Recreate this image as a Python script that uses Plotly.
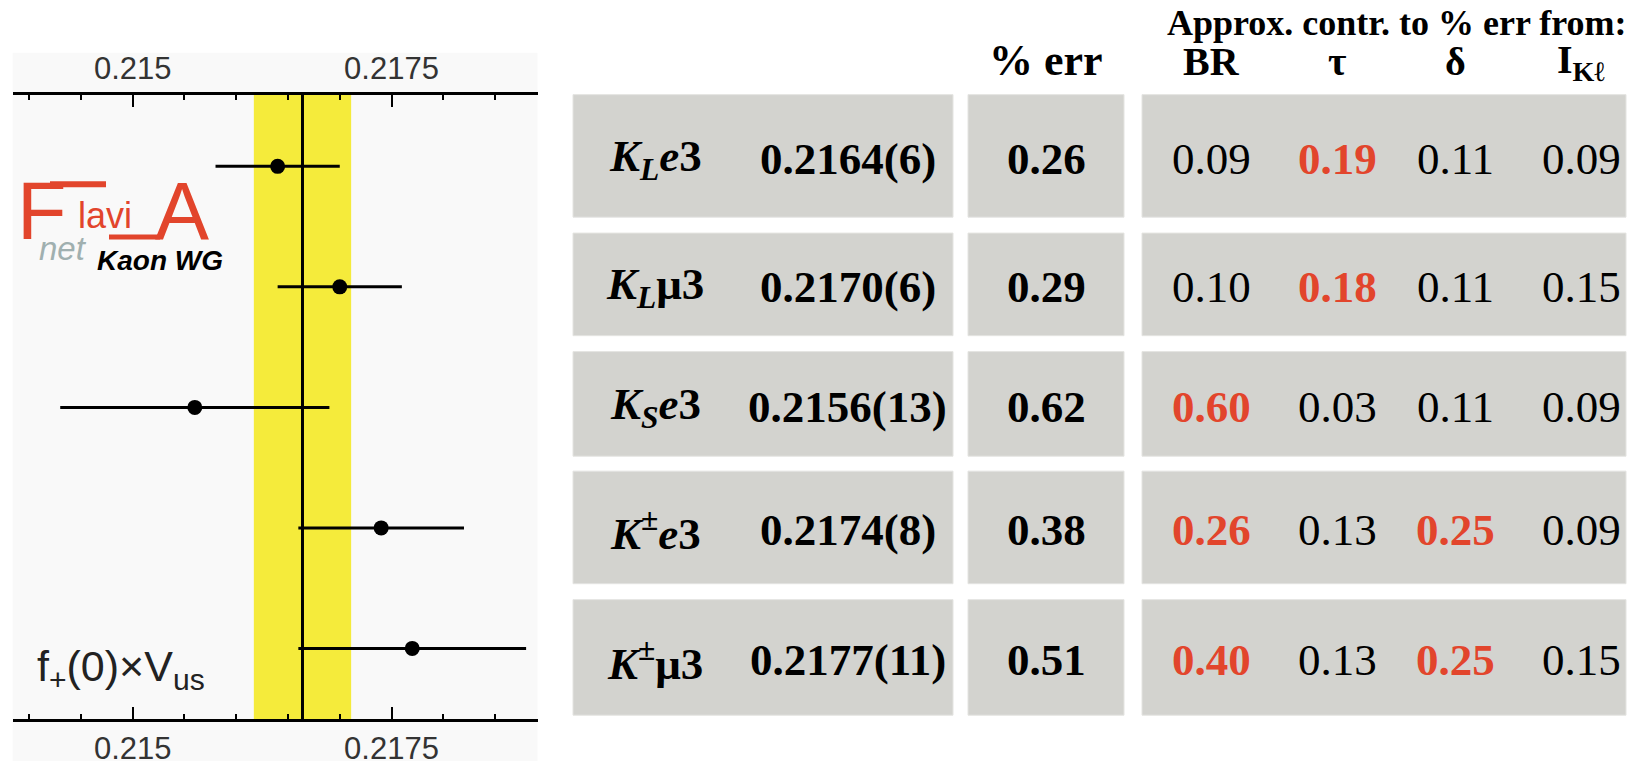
import plotly.graph_objects as go

# ---------------- data ----------------
decay_labels = [
    "<i>K</i><sub><i>L</i></sub><i>e</i>3",
    "<i>K</i><sub><i>L</i></sub>μ3",
    "<i>K</i><sub><i>S</i></sub><i>e</i>3",
    "<i>K</i><sup>±</sup><i>e</i>3",
    "<i>K</i><sup>±</sup>μ3",
]
fvus = [0.2164, 0.2170, 0.2156, 0.2174, 0.2177]
fvus_unc = [0.0006, 0.0006, 0.0013, 0.0008, 0.0011]
pct_err = [0.26, 0.29, 0.62, 0.38, 0.51]

contrib_headers = ["BR", "τ", "δ", "I<sub>Kℓ</sub>"]
contrib_br = [0.09, 0.10, 0.60, 0.26, 0.40]
contrib_tau = [0.19, 0.18, 0.03, 0.13, 0.13]
contrib_delta = [0.11, 0.11, 0.11, 0.25, 0.25]
contrib_ikl = [0.09, 0.15, 0.09, 0.09, 0.15]
# dominant contributions (printed in red)
dominant_br = [False, False, True, True, True]
dominant_tau = [True, True, False, False, False]
dominant_delta = [False, False, False, True, True]
dominant_ikl = [False, False, False, False, False]

avg_fvus = 0.21664
avg_unc = 0.00047

tick_vals = [0.215, 0.2175]
tick_text = ["0.215", "0.2175"]

# ---------------- layout helpers ----------------
W, H = 1646, 766
RED = "#e2452c"
BOX = "#d3d3cf"
SERIF = "Liberation Serif, Times New Roman, serif"
SANS = "Liberation Sans, Arial, sans-serif"


def px(x):
    return x / W


def py(y):
    return 1 - y / H


plot_left, plot_right = 12.6, 537.5
axis_top, axis_bottom = 95, 722
rows_y = list(range(len(fvus)))

fig = go.Figure()

fig.add_trace(go.Scatter(
    x=fvus, y=rows_y, mode="markers",
    marker=dict(size=15, color="black"),
    error_x=dict(type="data", array=fvus_unc, thickness=3, width=0, color="black"),
    hoverinfo="x", showlegend=False,
))
# helper trace so the top axis is drawn
fig.add_trace(go.Scatter(
    x=[avg_fvus], y=[0], xaxis="x2", yaxis="y", mode="markers",
    marker=dict(size=1, opacity=0), hoverinfo="skip", showlegend=False,
))

axis_common = dict(
    range=[0.21384, 0.21891],
    showline=True, linewidth=3, linecolor="black",
    ticks="inside", ticklen=12, tickwidth=2, tickcolor="black",
    tickmode="array", tickvals=tick_vals, ticktext=tick_text,
    tickfont=dict(family=SANS, size=31, color="#333333"),
    showgrid=False, zeroline=False,
    minor=dict(tickmode="linear", tick0=0.214, dtick=0.0005, ticks="inside",
               ticklen=5, tickwidth=2, tickcolor="black", showgrid=False),
)

fig.update_layout(
    width=W, height=H,
    margin=dict(l=0, r=0, t=0, b=0),
    paper_bgcolor="white",
    plot_bgcolor="rgba(0,0,0,0)",
    xaxis=dict(domain=[px(plot_left), px(plot_right)], anchor="y", side="bottom",
               **axis_common),
    xaxis2=dict(domain=[px(plot_left), px(plot_right)], anchor="y", side="top",
                overlaying="x", matches="x", **axis_common),
    yaxis=dict(domain=[py(axis_bottom), py(axis_top)], range=[4.587, -0.595],
               visible=False),
)

shapes = []
# light panel behind the plot
shapes.append(dict(type="rect", xref="paper", yref="paper",
                   x0=px(plot_left), x1=px(plot_right), y0=py(764), y1=py(53),
                   fillcolor="#f9f9f9", line=dict(width=0), layer="below"))
# average band and line
shapes.append(dict(type="rect", xref="x", yref="paper",
                   x0=avg_fvus - avg_unc, x1=avg_fvus + avg_unc,
                   y0=py(axis_bottom), y1=py(axis_top),
                   fillcolor="#f5eb3b", line=dict(width=0), layer="below"))
shapes.append(dict(type="line", xref="x", yref="paper",
                   x0=avg_fvus, x1=avg_fvus, y0=py(axis_bottom), y1=py(axis_top),
                   line=dict(color="black", width=3), layer="below"))

# table boxes
col_spans = [(573, 953), (968, 1124), (1142, 1626)]
row_spans = [(95, 218), (234, 337), (353, 458), (473, 586), (602, 718)]
for (y0, y1) in row_spans:
    for (x0, x1) in col_spans:
        shapes.append(dict(type="rect", xref="paper", yref="paper",
                           x0=px(x0), x1=px(x1), y0=py(y1), y1=py(y0),
                           fillcolor=BOX, line=dict(color="#e4e4e1", width=1),
                           layer="below"))

# logo strokes
shapes.append(dict(type="line", xref="paper", yref="paper",
                   x0=px(50), x1=px(106), y0=py(185), y1=py(185),
                   line=dict(color=RED, width=6)))
shapes.append(dict(type="line", xref="paper", yref="paper",
                   x0=px(109), x1=px(160), y0=py(238), y1=py(238),
                   line=dict(color=RED, width=5)))
fig.update_layout(shapes=shapes)

ann = []


def text(x, y, s, size, color="black", family=SERIF, xanchor="center", yanchor="middle"):
    ann.append(dict(x=px(x), y=py(y), xref="paper", yref="paper", text=s,
                    showarrow=False, xanchor=xanchor, yanchor=yanchor,
                    font=dict(family=family, size=size, color=color)))


# headers
text(1397, 23, "<b>Approx. contr. to % err from:</b>", 36)
text(1046, 61, "<b>% err</b>", 44)
contrib_x = [1211, 1337, 1455, 1581]
for cx, h in zip(contrib_x, contrib_headers):
    text(cx, 62, f"<b>{h}</b>", 40)

# table rows
contrib_cols = [
    (contrib_br, dominant_br),
    (contrib_tau, dominant_tau),
    (contrib_delta, dominant_delta),
    (contrib_ikl, dominant_ikl),
]
for i, (y0, y1) in enumerate(row_spans):
    cy = (y0 + y1) / 2 + 3
    text(655, cy, f"<b>{decay_labels[i]}</b>", 45)
    text(848, cy, f"<b>{fvus[i]:.4f}({round(fvus_unc[i] * 1e4)})</b>", 45)
    text(1046, cy, f"<b>{pct_err[i]:.2f}</b>", 45)
    for cx, (vals, dom) in zip(contrib_x, contrib_cols):
        s = f"{vals[i]:.2f}"
        if dom[i]:
            text(cx, cy, f"<b>{s}</b>", 45, color=RED)
        else:
            text(cx, cy, s, 45)

# quantity label
text(35, 672, "f<sub>+</sub>(0)×V<sub>us</sub>",
     43, color="#222222", family=SANS, xanchor="left")

# logo
text(15, 212, "F", 81, color=RED, family=SANS, xanchor="left")
text(76, 216, "lavi", 36, color=RED, family=SANS, xanchor="left")
text(182, 212, "A", 81, color=RED, family=SANS)
text(37, 249, "<i>net</i>", 33, color="#a0b0b0", family=SANS, xanchor="left")
text(95, 262, "<b><i>Kaon WG</i></b>", 28, color="black", family=SANS, xanchor="left")

fig.update_layout(annotations=ann)

fig.write_html("out.html")
